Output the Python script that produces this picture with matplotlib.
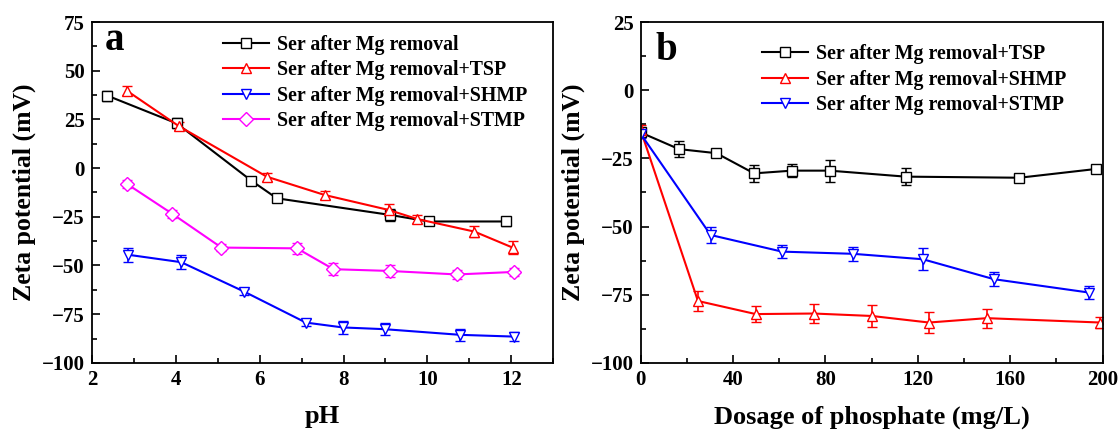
import numpy as np
import matplotlib.pyplot as plt
from matplotlib.ticker import MultipleLocator
from matplotlib.lines import Line2D

plt.rcParams['font.family'] = ['Liberation Serif', 'DejaVu Serif']
plt.rcParams['font.weight'] = 'bold'
plt.rcParams['axes.labelweight'] = 'bold'

# Panel a: zeta potential vs pH
ph_mg = [2.37, 4.02, 5.80, 6.41, 9.10, 10.03, 11.87]
zeta_mg = [37.2, 23.0, -6.4, -15.5, -24.0, -27.4, -27.4]
err_mg = [2.5, 2.5, 1.5, 1.5, 3.0, 2.0, 2.5]

ph_tsp = [2.83, 4.07, 6.17, 7.55, 9.08, 9.75, 11.12, 12.03]
zeta_tsp = [39.8, 21.6, -4.4, -13.8, -21.5, -26.1, -32.6, -40.8]
err_tsp = [2.5, 2.0, 2.0, 2.0, 3.0, 2.0, 3.0, 3.5]

ph_shmp = [2.87, 4.13, 5.63, 7.10, 7.98, 8.98, 10.78, 12.06]
zeta_shmp = [-44.5, -48.3, -63.4, -79.3, -81.8, -82.7, -85.6, -86.5]
err_shmp = [3.5, 3.5, 1.5, 2.0, 3.5, 3.0, 3.0, 2.5]

ph_stmp = [2.85, 3.92, 5.09, 6.89, 7.76, 9.10, 10.70, 12.07]
zeta_stmp = [-8.3, -23.5, -40.8, -41.2, -51.9, -52.8, -54.6, -53.3]
err_stmp = [2.0, 2.0, 2.0, 3.0, 3.0, 3.0, 2.5, 2.0]

# Panel b: zeta potential vs phosphate dosage
dose_tsp = [0, 16.6, 32.8, 49.1, 65.5, 81.8, 114.7, 164, 197]
zb_tsp = [-15.5, -21.6, -23.1, -30.5, -29.5, -29.5, -31.7, -32.1, -28.9]
eb_tsp = [1.5, 3.0, 1.5, 3.0, 2.5, 4.0, 3.0, 1.2, 1.2]

dose_shmp = [0, 24.8, 49.8, 75, 100.1, 124.8, 149.9, 199]
zb_shmp = [-14.6, -77.3, -82.1, -81.9, -82.8, -85.2, -83.6, -85.2]
eb_shmp = [2.0, 3.5, 3.0, 3.5, 4.0, 4.0, 3.5, 2.0]

dose_stmp = [0, 30.3, 61.2, 91.9, 122.2, 152.9, 194]
zb_stmp = [-16.0, -53.1, -59.2, -60.0, -62.0, -69.3, -74.2]
eb_stmp = [1.5, 3.0, 2.5, 2.5, 4.0, 2.5, 2.5]

fig = plt.figure(figsize=(11.2, 4.32), dpi=100)
ax1 = fig.add_axes([0.082, 0.160, 0.412, 0.789])
ax2 = fig.add_axes([0.572, 0.160, 0.4125, 0.789])


def serie(ax, x, y, e, color, marker, label):
    estilo = dict(color=color, marker=marker, markersize=7,
                  markerfacecolor='white', markeredgecolor=color,
                  markeredgewidth=1.0, linewidth=1.5)
    ax.errorbar(x, y, yerr=e, elinewidth=1.2, capsize=3.5, capthick=1.2,
                **estilo)
    # handle for the legend without the error bar
    return Line2D([], [], label=label, **estilo)


h1 = [
    serie(ax1, ph_mg, zeta_mg, err_mg, 'black', 's', 'Ser after Mg removal'),
    serie(ax1, ph_tsp, zeta_tsp, err_tsp, 'red', '^',
          'Ser after Mg removal+TSP'),
    serie(ax1, ph_shmp, zeta_shmp, err_shmp, 'blue', 'v',
          'Ser after Mg removal+SHMP'),
    serie(ax1, ph_stmp, zeta_stmp, err_stmp, 'magenta', 'D',
          'Ser after Mg removal+STMP'),
]
h2 = [
    serie(ax2, dose_tsp, zb_tsp, eb_tsp, 'black', 's',
          'Ser after Mg removal+TSP'),
    serie(ax2, dose_shmp, zb_shmp, eb_shmp, 'red', '^',
          'Ser after Mg removal+SHMP'),
    serie(ax2, dose_stmp, zb_stmp, eb_stmp, 'blue', 'v',
          'Ser after Mg removal+STMP'),
]

ax1.set_xlim(2, 13)
ax1.set_ylim(-100, 75)
ax1.xaxis.set_major_locator(MultipleLocator(2))
ax1.xaxis.set_minor_locator(MultipleLocator(1))
ax1.yaxis.set_major_locator(MultipleLocator(25))
ax1.yaxis.set_minor_locator(MultipleLocator(12.5))
ax1.set_xlabel('pH', fontsize=19, labelpad=11)

ax2.set_xlim(0, 200)
ax2.set_ylim(-100, 25)
ax2.xaxis.set_major_locator(MultipleLocator(40))
ax2.xaxis.set_minor_locator(MultipleLocator(20))
ax2.yaxis.set_major_locator(MultipleLocator(25))
ax2.yaxis.set_minor_locator(MultipleLocator(12.5))
ax2.set_xlabel('Dosage of phosphate (mg/L)', fontsize=19, labelpad=11)

for ax in (ax1, ax2):
    ax.set_ylabel('Zeta potential (mV)', fontsize=18.5, labelpad=4)
    ax.tick_params(which='both', direction='in', top=False, right=False,
                   labelsize=15)
    ax.tick_params(which='major', length=6, width=1.2, pad=5)
    ax.tick_params(which='minor', length=3.5, width=1.2)
    for s in ax.spines.values():
        s.set_linewidth(1.3)

ax1.legend(handles=h1, loc='upper left', bbox_to_anchor=(0.285, 0.962),
           frameon=False, fontsize=14.3, handlelength=2.3,
           borderpad=0, borderaxespad=0, labelspacing=0.27,
           handletextpad=0.4)
ax2.legend(handles=h2, loc='upper left', bbox_to_anchor=(0.263, 0.935),
           frameon=False, fontsize=14.3, handlelength=2.3,
           borderpad=0, borderaxespad=0, labelspacing=0.27,
           handletextpad=0.4)

ax1.text(0.028, 0.918, 'a', transform=ax1.transAxes, fontsize=28,
         fontweight='bold')
ax2.text(0.032, 0.889, 'b', transform=ax2.transAxes, fontsize=28,
         fontweight='bold')

fig.savefig('out.png', dpi=100)
